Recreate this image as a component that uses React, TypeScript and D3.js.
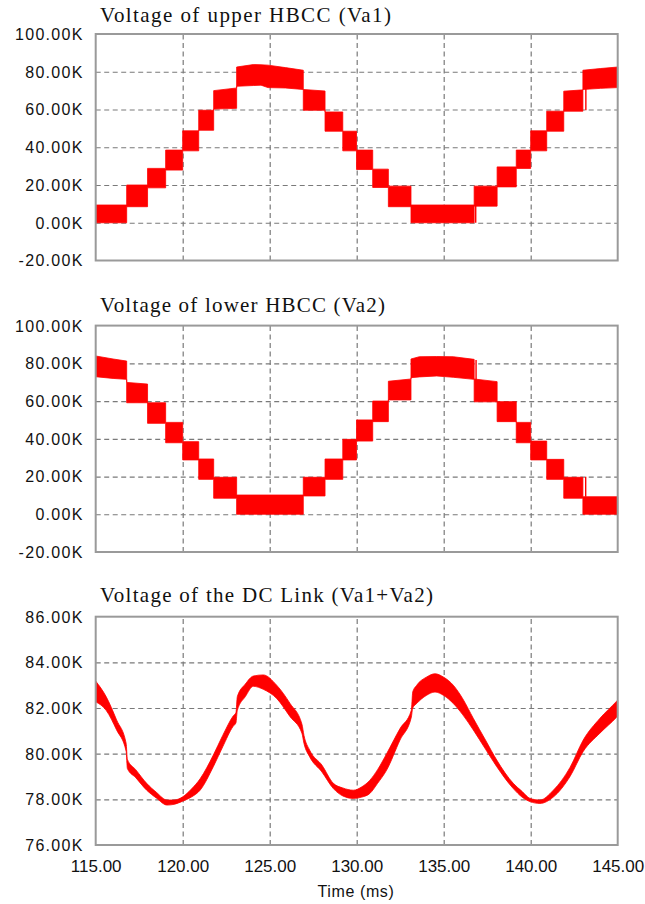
import { useEffect, useRef } from 'react'
import { select, scaleLinear, area, axisLeft, axisBottom, curveLinear, curveMonotoneX } from 'd3'

const timeTicks = [115, 120, 125, 130, 135, 140, 145]
const stepTicks = [-20, 0, 20, 40, 60, 80, 100]
const linkTicks = [76, 78, 80, 82, 84, 86]

// Va1 band: time (ms), lower and upper edge of the ripple (kV)
const va1Time = [115, 116.78, 116.78, 117.98, 117.98, 119.02, 119.02, 120.0, 120.0, 120.92, 120.92, 121.78, 121.78, 123.1,
  123.1, 124.06, 124.5, 124.9, 125.9, 126.93, 126.93, 128.18, 128.18, 129.2, 129.2, 129.99, 129.99, 130.92, 130.92, 131.82,
  131.82, 133.12, 133.12, 136.75, 136.75, 138.07, 138.07, 139.17, 139.17, 140.0, 140.0, 140.92, 140.92, 141.9, 141.9, 143.0,
  143.0, 144.0, 145]
const va1Low = [0, 0, 8.5, 8.5, 18.5, 18.5, 27.9, 27.9, 38.1, 38.1, 49, 49, 60.2, 60.6,
  72.3, 72.7, 72.9, 71.6, 71.4, 70.6, 59.6, 59.6, 48.5, 48.5, 38.1, 38.1, 28.2, 28.2, 18.7, 18.7,
  8.5, 8.5, 0, 0, 8.8, 8.8, 19, 19, 28.8, 28.8, 38.1, 38.1, 48.5, 48.5, 59.1, 59.1,
  70.6, 71.2, 71.6]
const va1High = [9.4, 9.4, 20, 20, 28.8, 28.8, 38.5, 38.5, 48.7, 48.7, 59.6, 59.6, 70.0, 71.4,
  82.5, 83.8, 83.7, 83.5, 82.2, 80.8, 70.6, 69.8, 58.7, 58.7, 48.5, 48.5, 38.5, 38.5, 28.4, 28.4,
  19.4, 19.4, 9.4, 9.4, 19.4, 19.4, 29.6, 29.6, 38.5, 38.5, 48.7, 48.7, 59.1, 59.1, 69.7, 70.4,
  80.8, 81.7, 82.5]
const va1SpikeTime = [136.84, 143.17]
const va1SpikeLow = [0, 59.6]
const va1SpikeHigh = [9.2, 71.1]

// Va2 band
const va2Time = [115, 116.0, 116.78, 116.78, 117.98, 117.98, 119.02, 119.02, 120.0, 120.0, 120.92, 120.92, 121.78, 121.78,
  123.1, 123.1, 126.93, 126.93, 128.18, 128.18, 129.2, 129.2, 129.99, 129.99, 130.92, 130.92, 131.82, 131.82, 133.12,
  133.12, 133.6, 134.6, 135.55, 136.75, 136.75, 138.07, 138.07, 139.17, 139.17, 140.0, 140.0, 140.92, 140.92, 141.9,
  141.9, 143.0, 143.0, 145]
const va2Low = [72.9, 72.0, 71.5, 59.1, 59.1, 48.2, 48.2, 37.9, 37.9, 28.8, 28.8, 18.5, 18.5, 8.5,
  8.5, 0, 0, 9.7, 9.7, 18.5, 18.5, 28.8, 28.8, 38.8, 38.8, 49.1, 49.1, 60.6, 60.6,
  72.4, 72.8, 73.3, 72.6, 71.5, 59.6, 59.6, 49.1, 49.1, 37.9, 37.9, 28.8, 28.8, 18.5, 18.5,
  8.5, 8.5, 0, 0]
const va2High = [83.9, 82.3, 81.2, 69.9, 69.0, 59.1, 59.1, 48.7, 48.7, 38.5, 38.5, 29.3, 29.3, 19.6,
  19.6, 10.2, 10.2, 19.6, 19.6, 29.3, 29.3, 39.7, 39.7, 50, 50, 60, 60, 70.5, 71.7,
  82.3, 83.5, 83.6, 83.5, 82.1, 71.7, 70.3, 59.7, 59.7, 48.7, 48.7, 38.8, 38.8, 29.1, 29.1,
  19.6, 19.6, 9.3, 9.3]
const va2SpikeTime = [136.86, 143.16]
const va2SpikeLow = [71.2, 9.3]
const va2SpikeHigh = [81.8, 19.9]

// DC link band (Va1 + Va2)
const dcTime = [115.0, 115.6, 116.2, 116.75, 116.82, 117.3, 117.93, 118.5, 119.1, 119.5, 120.0, 120.5, 121.0, 121.76,
  122.3, 122.9, 123.06, 123.14, 123.6, 124.06, 124.63, 125.4, 126.17, 126.85, 126.97, 127.3, 128.0, 128.66, 129.2,
  129.8, 130.3, 130.76, 131.2, 131.72, 132.49, 133.14, 133.22, 133.45, 134.0, 134.5, 135.0, 135.55, 136.1, 136.7,
  137.4, 138.05, 139.0, 139.5, 139.96, 140.53, 141.3, 142.26, 143.02, 143.98, 144.94, 145.0]
const dcLow = [82.27, 81.9, 81.04, 80.1, 79.35, 78.95, 78.4, 78.05, 77.75, 77.78, 77.92, 78.1, 78.4, 79.43,
  80.3, 81.2, 81.35, 81.9, 82.5, 82.95, 82.82, 82.42, 81.62, 80.9, 80.45, 79.86, 79.2, 78.47, 78.15,
  78.04, 78.1, 78.26, 78.7, 79.28, 80.6, 81.6, 82.0, 82.2, 82.55, 82.7, 82.55, 82.2, 81.7, 81.04,
  80.2, 79.43, 78.47, 78.1, 77.9, 77.82, 78.1, 79.0, 80.1, 80.9, 81.6, 81.65]
const dcHigh = [83.18, 82.5, 81.48, 80.45, 79.75, 79.3, 78.7, 78.3, 77.97, 77.97, 78.11, 78.45, 78.9, 79.94,
  80.8, 81.65, 81.8, 82.5, 83.05, 83.4, 83.45, 83.0, 82.2, 81.3, 80.8, 80.15, 79.5, 78.7, 78.5,
  78.4, 78.55, 78.84, 79.3, 80.0, 81.1, 81.9, 82.7, 83.0, 83.35, 83.5, 83.35, 83.0, 82.4, 81.55,
  80.6, 79.72, 78.7, 78.35, 78.04, 77.97, 78.4, 79.4, 80.6, 81.55, 82.3, 82.35]

export default function App() {
  const svgRef = useRef<SVGSVGElement>(null)

  useEffect(() => {
    const svg = select(svgRef.current)
    svg.selectAll('*').remove()

    const left = 95.7
    const right = 617.7
    const xScale = scaleLinear([115, 145], [left, right])

    const panels = [
      { title: 'Voltage of upper HBCC (Va1)', titleY: 22, titleW: 291, top: 34, bottom: 260.5, domain: [-20, 100],
        ticks: stepTicks, t: va1Time, lo: va1Low, hi: va1High, curve: curveLinear,
        spikes: va1SpikeTime.map((d, i) => [d, va1SpikeLow[i], va1SpikeHigh[i]]) },
      { title: 'Voltage of lower HBCC (Va2)', titleY: 311.7, titleW: 285, top: 325.6, bottom: 552, domain: [-20, 100],
        ticks: stepTicks, t: va2Time, lo: va2Low, hi: va2High, curve: curveLinear,
        spikes: va2SpikeTime.map((d, i) => [d, va2SpikeLow[i], va2SpikeHigh[i]]) },
      { title: 'Voltage of the DC Link (Va1+Va2)', titleY: 602.3, titleW: 333, top: 616.7, bottom: 845, domain: [76, 86],
        ticks: linkTicks, t: dcTime, lo: dcLow, hi: dcHigh, curve: curveMonotoneX, spikes: [] }
    ]

    panels.forEach((p, k) => {
      const yScale = scaleLinear(p.domain, [p.bottom, p.top])
      const g = svg.append('g')
      const inner = p.ticks.slice(1, -1)

      // title
      g.append('text')
        .attr('x', 100)
        .attr('y', p.titleY)
        .attr('textLength', p.titleW)
        .attr('lengthAdjust', 'spacing')
        .style('font-family', '"Liberation Serif", "DejaVu Serif", serif')
        .style('font-size', '21px')
        .style('fill', '#111')
        .text(p.title)

      // dashed grid
      const vGrid = axisBottom(xScale)
        .tickValues(timeTicks.slice(1, -1))
        .tickSize(-(p.bottom - p.top))
        .tickFormat(() => '')
      g.append('g')
        .attr('class', 'v-grid')
        .attr('transform', `translate(0,${p.bottom})`)
        .call(vGrid)
      const hGrid = axisLeft(yScale)
        .tickValues(inner)
        .tickSize(-(right - left))
        .tickFormat(() => '')
      g.append('g')
        .attr('class', 'h-grid')
        .attr('transform', `translate(${left},0)`)
        .call(hGrid)
      g.selectAll('.v-grid > path, .h-grid > path').remove()
      g.selectAll('.v-grid line, .h-grid line')
        .attr('stroke', '#7a7a7a')
        .attr('stroke-width', 1.2)
        .attr('stroke-dasharray', '5,3.5')

      // ripple band
      const band = area<number>()
        .x((_, i) => xScale(p.t[i]))
        .y0((_, i) => yScale(p.lo[i]))
        .y1((_, i) => yScale(p.hi[i]))
        .curve(p.curve)
      g.append('path')
        .datum(p.t)
        .attr('d', band)
        .attr('fill', '#ff0000')
        .attr('stroke', '#ff0000')
        .attr('stroke-width', 0.8)

      // switching spikes
      g.selectAll('.spike')
        .data(p.spikes)
        .join('line')
        .attr('class', 'spike')
        .attr('x1', d => xScale(d[0]))
        .attr('x2', d => xScale(d[0]))
        .attr('y1', d => yScale(d[1]))
        .attr('y2', d => yScale(d[2]))
        .attr('stroke', '#ff0000')
        .attr('stroke-width', 1.4)

      // y tick labels
      const yAxis = axisLeft(yScale)
        .tickValues(p.ticks)
        .tickSize(0)
        .tickPadding(12)
        .tickFormat(d => `${(+d).toFixed(2)}K`)
      g.append('g')
        .attr('class', 'y-labels')
        .attr('transform', `translate(${left},0)`)
        .call(yAxis)
      g.selectAll('.y-labels > path').remove()
      g.selectAll('.y-labels text')
        .attr('dy', '0.34em')
        .style('font-family', '"Liberation Sans", Arial, sans-serif')
        .style('font-size', '16px')
        .style('letter-spacing', '1.3px')
        .style('fill', '#111')

      // frame
      g.append('rect')
        .attr('x', left)
        .attr('y', p.top)
        .attr('width', right - left)
        .attr('height', p.bottom - p.top)
        .attr('fill', 'none')
        .attr('stroke', '#9a9a9a')
        .attr('stroke-width', 2)

      // time axis on the last panel only
      if (k === panels.length - 1) {
        const xAxis = axisBottom(xScale)
          .tickValues(timeTicks)
          .tickSize(0)
          .tickPadding(15)
          .tickFormat(d => (+d).toFixed(2))
        g.append('g')
          .attr('class', 'x-labels')
          .attr('transform', `translate(0,${p.bottom})`)
          .call(xAxis)
        g.selectAll('.x-labels > path').remove()
        g.selectAll('.x-labels text')
          .style('font-family', '"Liberation Sans", Arial, sans-serif')
          .style('font-size', '17px')
          .style('fill', '#111')
        g.append('text')
          .attr('x', 356)
          .attr('y', 897)
          .attr('text-anchor', 'middle')
          .style('font-family', '"Liberation Sans", Arial, sans-serif')
          .style('font-size', '16px')
          .style('letter-spacing', '0.6px')
          .style('fill', '#111')
          .text('Time (ms)')
      }
    })
  }, [])

  return (
    <svg
      ref={svgRef}
      width={645}
      height={904}
      style={{ position: 'absolute', left: 0, top: 0, background: '#fff', display: 'block' }}
    />
  )
}
